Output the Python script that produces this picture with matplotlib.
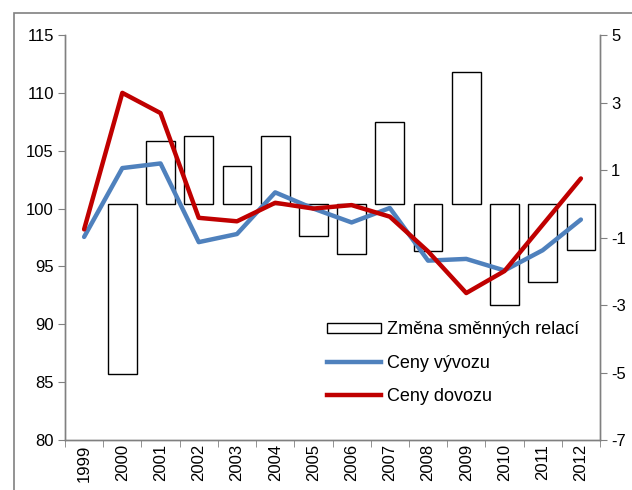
import matplotlib
matplotlib.use("Agg")
import matplotlib.pyplot as plt
from matplotlib.patches import Rectangle, Patch
from matplotlib.lines import Line2D
import numpy as np

years = [str(y) for y in range(1999, 2013)]
zmena = [np.nan, -5.05, 1.85, 2.0, 1.13, 2.0, -0.96, -1.49, 2.41, -1.41, 3.9, -3.0, -2.32, -1.37]
vyvoz = [97.55, 103.5, 103.9, 97.1, 97.8, 101.4, 100.0, 98.8, 100.05, 95.5, 95.65, 94.65, 96.4, 99.05]
dovoz = [98.2, 110.0, 108.25, 99.2, 98.9, 100.5, 100.0, 100.3, 99.3, 96.3, 92.7, 94.6, 98.6, 102.6]

plt.rcParams['font.family'] = ['Liberation Sans', 'DejaVu Sans']
plt.rcParams['axes.unicode_minus'] = False

fig = plt.figure(figsize=(6.32, 4.90), dpi=100)
fig.patches.append(Rectangle((14/632, -0.1), 1.2, 1 - 13/490 + 0.1, transform=fig.transFigure,
                             fill=False, edgecolor='#808080', lw=1.2))
ax1 = fig.add_axes([65/632, 1 - 440/490, 535/632, 405/490])
ax2 = ax1.twinx()

x = list(range(len(years)))
ax2.bar(x, zmena, width=0.75, facecolor='white', edgecolor='black', lw=1.0)
ax2.set_ylim(-7, 5)
ax2.set_yticks([-7, -5, -3, -1, 1, 3, 5])

ax1.plot(x, vyvoz, color='#4F81BD', lw=3.2, solid_capstyle='round')
ax1.plot(x, dovoz, color='#C00000', lw=3.2, solid_capstyle='round')
ax1.set_ylim(80, 115)
ax1.set_yticks(range(80, 116, 5))
ax1.set_xlim(-0.5, len(years) - 0.5)
ax1.set_zorder(ax2.get_zorder() + 1)
ax1.patch.set_visible(False)

ax1.set_xticks(x)
ax1.set_xticklabels(years, rotation=90)
ax1.set_xticks([i - 0.5 for i in range(len(years) + 1)], minor=True)
ax1.tick_params(axis='x', which='major', length=0, pad=3, labelsize=12)
ax1.tick_params(axis='x', which='minor', length=5, color='#808080')
ax1.tick_params(axis='y', length=5, color='#808080', labelsize=12, pad=3)
ax2.tick_params(axis='y', length=5, color='#808080', labelsize=12, pad=3)

for a in (ax1, ax2):
    a.spines['top'].set_visible(False)
    for s in ('left', 'right', 'bottom'):
        a.spines[s].set_color('#808080')
        a.spines[s].set_linewidth(1.0)

handles = [Patch(facecolor='white', edgecolor='black', lw=1.0),
           Line2D([], [], color='#4F81BD', lw=3.2),
           Line2D([], [], color='#C00000', lw=3.2)]
labels = ['Změna směnných relací', 'Ceny vývozu', 'Ceny dovozu']
ax1.legend(handles, labels, loc='upper left', bbox_to_anchor=(0.49, 0.293), frameon=False,
           borderpad=0, borderaxespad=0,
           fontsize=13, handlelength=3.0, handleheight=0.55, handletextpad=0.3, labelspacing=0.9)

fig.savefig('out.png', dpi=100)
